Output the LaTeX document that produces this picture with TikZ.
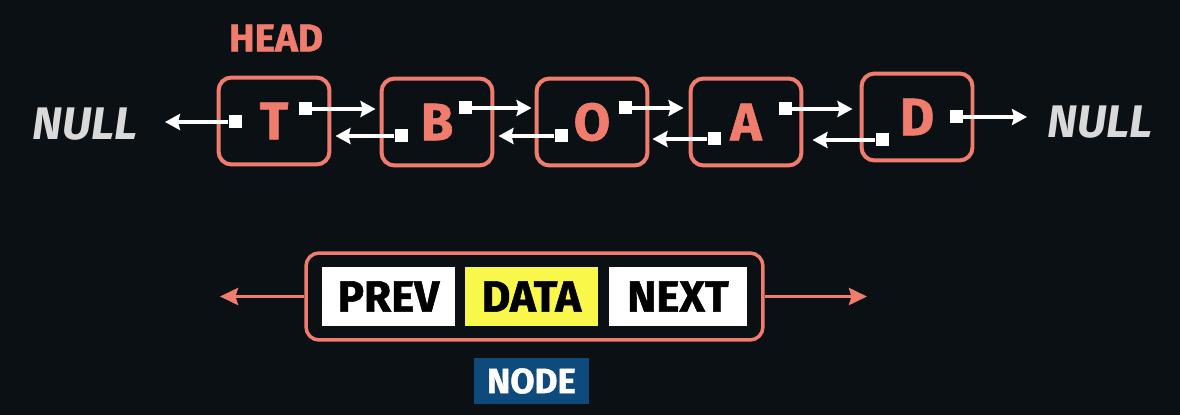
\documentclass[tikz,border=0pt]{standalone}
\usepackage{fontspec}
\setmainfont{Fira Sans}[BoldFeatures={FakeBold=1.2}]
\usetikzlibrary{arrows.meta}
\definecolor{bg}{HTML}{0A1014}
\definecolor{salmon}{HTML}{F07C6E}
\definecolor{nullgray}{HTML}{D9D9D9}
\definecolor{datayellow}{HTML}{F9F74A}
\definecolor{nodeblue}{HTML}{0E4A7C}
\tikzset{
  cell/.style={draw=salmon,line width=0.08cm,rounded corners=0.26cm,minimum width=2.22cm,minimum height=1.74cm,text=salmon,font=\fontsize{30}{30}\selectfont\bfseries},
  ptr/.style={fill=white,minimum size=0.26cm,inner sep=0pt},
  link/.style={white,line width=0.08cm,-{Stealth[length=0.3cm,width=0.32cm,inset=0.04cm]}},
  nulllbl/.style={text=nullgray,inner sep=0pt,font=\fontsize{26}{26}\selectfont\bfseries\itshape},
  field/.style={minimum width=2.66cm,minimum height=1.18cm,inner sep=0pt,text=black,font=\fontsize{25}{25}\selectfont\bfseries},
  back/.style={salmon,line width=0.07cm,-{Stealth[length=0.36cm,width=0.34cm,inset=0.05cm]}}
}
\begin{document}
\begin{tikzpicture}[x=0.02cm,y=-0.02cm]
\fill[bg] (0,0) rectangle (1180,415);
% the list
\node[cell] (t) at (274,121) {T};
\node[cell] (b) at (437,122) {B};
\node[cell] (o) at (592,122) {O};
\node[cell] (a) at (746,122) {A};
\node[cell] (d) at (917,117) {D};
\node[text=salmon,font=\fontsize{22}{22}\selectfont\bfseries] (head) at (276,38) {HEAD};
\node[nulllbl,anchor=east] (nullL) at (138,124) {NULL};
\node[nulllbl,anchor=west] (nullR) at (1047,122) {NULL};
% prev / next squares
\node[ptr] (tp) at (235,122) {};
\node[ptr] (tn) at (305,109) {};
\node[ptr] (bp) at (401,136) {};
\node[ptr] (bn) at (465,108) {};
\node[ptr] (op) at (561,136) {};
\node[ptr] (on) at (625,108) {};
\node[ptr] (ap) at (714,139) {};
\node[ptr] (an) at (785,109) {};
\node[ptr] (dp) at (882,140) {};
\node[ptr] (dn) at (956,117) {};
\draw[link,shorten >=0.54cm] (tp.west) -- (tp.west -| nullL.east);
\draw[link,shorten >=0.08cm] (tn.east) -- (tn.east -| b.west);
\draw[link,shorten >=0.08cm] (bp.west) -- (bp.west -| t.east);
\draw[link,shorten >=0.06cm] (bn.east) -- (bn.east -| o.west);
\draw[link,shorten >=0.08cm] (op.west) -- (op.west -| b.east);
\draw[link,shorten >=0.1cm] (on.east) -- (on.east -| a.west);
\draw[link,shorten >=0.06cm] (ap.west) -- (ap.west -| o.east);
\draw[link,shorten >=0.14cm] (an.east) -- (an.east -| d.west);
\draw[link,shorten >=0.18cm] (dp.west) -- (dp.west -| a.east);
\draw[link,shorten >=0.4cm] (dn.east) -- (dn.east -| nullR.west);
% one node
\node[draw=salmon,line width=0.07cm,rounded corners=0.26cm,minimum width=9.14cm,minimum height=1.74cm] (nodebox) at (534.5,296.5) {};
\node[field,fill=white] (prev) at (388.5,296.5) {PREV};
\node[field,fill=datayellow] (data) at (531.5,296.5) {DATA};
\node[field,fill=white,minimum width=2.76cm] (next) at (678,296.5) {NEXT};
\node[fill=nodeblue,text=white,minimum width=2.3cm,minimum height=0.92cm,inner sep=0pt,font=\fontsize{20}{20}\selectfont\bfseries] (caption) at (531.5,381) {NODE};
\coordinate (pl) at (220,296.5);
\coordinate (nr) at (867,296.5);
\draw[back] (nodebox.west) -- (pl);
\draw[back] (nodebox.east) -- (nr);
\end{tikzpicture}
\end{document}
